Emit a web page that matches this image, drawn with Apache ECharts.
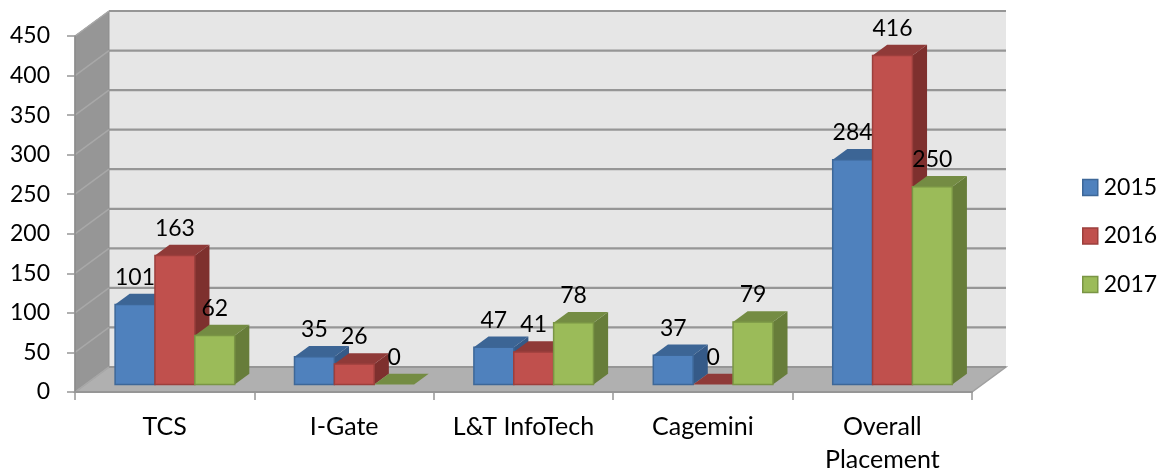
<!DOCTYPE html>
<html>
<head>
<meta charset="utf-8">
<style>html,body{margin:0;padding:0;background:#fff}#c{width:1163px;height:469px}</style>
<script src="https://cdn.jsdelivr.net/npm/echarts@6/dist/echarts.min.js"></script>
</head>
<body>
<div id="c"></div>
<script>
const categories = ['TCS', 'I-Gate', 'L&T InfoTech', 'Cagemini', 'Overall\nPlacement'];
const values2015 = [101, 35, 47, 37, 284];
const values2016 = [163, 26, 41, 0, 416];
const values2017 = [62, 0, 78, 79, 250];
const yTicks = [0, 50, 100, 150, 200, 250, 300, 350, 400, 450];

const FONT = 'Lato';
const WALL_DX = 34, WALL_DY = -25;     // depth of the 3D box
const BAR_START = 0.3, BAR_DEPTH = 0.43; // bar position along the depth, as fraction
const GAP = 1.5;                       // gap width, in bar widths

function poly(points, fill, stroke, lineWidth) {
  return { type: 'polygon', shape: { points }, style: { fill, stroke: stroke || null, lineWidth: lineWidth || 0 } };
}

function wallsItem(params) {
  const g = params.coordSys;
  const l = g.x, r = g.x + g.width, t = g.y, b = g.y + g.height;
  const dx = WALL_DX, dy = WALL_DY;
  return { type: 'group', children: [
    poly([[l + dx, t + dy], [r + dx, t + dy], [r + dx, b + dy], [l + dx, b + dy]], '#e6e6e6'),
    poly([[l, b], [l + dx, b + dy], [l + dx, t + dy], [l, t]], '#969696', '#8c8c8c', 1),
    poly([[l, b], [r, b], [r + dx, b + dy], [l + dx, b + dy]], '#b0b0b0', '#a0a0a0', 1.5)
  ] };
}

function gridItem(params, api) {
  const g = params.coordSys;
  const p = api.coord([0, api.value(0)]);
  const y = p[1], l = g.x, r = g.x + g.width;
  const line = (x1, y1, x2, y2, c, w) => ({ type: 'line', shape: { x1, y1, x2, y2 }, style: { stroke: c, lineWidth: w } });
  return { type: 'group', children: [
    line(l, y, l + WALL_DX, y + WALL_DY, '#a8a8a8', 1.5),
    line(l + WALL_DX, y + WALL_DY, r + WALL_DX, y + WALL_DY, '#969696', 2.2)
  ] };
}

function barRenderer(seriesIndex, seriesCount, face, top, side, edge) {
  return function (params, api) {
    const cat = api.value(0), val = api.value(1);
    const base = api.coord([cat, 0]);
    const head = api.coord([cat, val]);
    const band = api.size([1, 0])[0];
    const w = band / (seriesCount + GAP);
    const sx = WALL_DX * BAR_START, sy = WALL_DY * BAR_START;
    const x0 = base[0] + sx - (w * seriesCount) / 2 + w * seriesIndex;
    const x1 = x0 + w;
    const yb = base[1] + sy, yt = head[1] + sy;
    const ddx = WALL_DX * BAR_DEPTH, ddy = WALL_DY * BAR_DEPTH;
    const children = [
      poly([[x1, yt], [x1 + ddx, yt + ddy], [x1 + ddx, yb + ddy], [x1, yb]], side),
      poly([[x0, yt], [x0 + ddx, yt + ddy], [x1 + ddx, yt + ddy], [x1, yt]], top)
    ];
    if (val > 0) {
      children.push({ type: 'rect', shape: { x: x0, y: yt, width: w, height: yb - yt }, style: { fill: face, stroke: edge, lineWidth: 1.5 } });
    }
    children.push({
      type: 'text', z2: 100,
      style: { x: (x0 + x1) / 2, y: yt - 27, text: String(val), fill: '#000', font: '23px ' + FONT, align: 'center', verticalAlign: 'middle' }
    });
    return { type: 'group', children };
  };
}

const years = [
  { name: '2015', data: values2015, face: '#4f81bd', top: '#3c6595', side: '#355a88', edge: '#3d6798' },
  { name: '2016', data: values2016, face: '#c0504d', top: '#8f3a38', side: '#7e302e', edge: '#9c3f3c' },
  { name: '2017', data: values2017, face: '#9bbb59', top: '#748c43', side: '#677d3a', edge: '#7a9545' }
];

const chart = echarts.init(document.getElementById('c'), null, { renderer: 'canvas' });
chart.setOption({
  animation: false,
  backgroundColor: '#fff',
  grid: { left: 75, right: 191, top: 36, bottom: 77, outerBoundsMode: 'none', containLabel: false },
  xAxis: {
    type: 'category', data: categories, z: 10,
    axisLine: { lineStyle: { color: '#969696', width: 2 } },
    axisTick: { show: true, length: 8, lineStyle: { color: '#969696', width: 1.5 } },
    axisLabel: { color: '#000', fontFamily: FONT, fontSize: 25, lineHeight: 33, margin: 18, interval: 0 }
  },
  yAxis: {
    type: 'value', min: 0, max: 450, interval: 50, z: 10,
    splitLine: { show: false },
    axisLine: { show: true, lineStyle: { color: '#8c8c8c', width: 1.5 } },
    axisTick: { show: true, length: 8, lineStyle: { color: '#969696', width: 1.5 } },
    axisLabel: { color: '#000', fontFamily: FONT, fontSize: 23, margin: 25 }
  },
  legend: {
    orient: 'vertical', left: 1077, top: 171, itemWidth: 15, itemHeight: 16, itemGap: 25.5,
    icon: 'rect', selectedMode: false,
    textStyle: { color: '#000', fontFamily: FONT, fontSize: 23, padding: [0, 0, 0, 1] },
    data: years.map(y => ({ name: y.name, itemStyle: { color: y.face, borderColor: y.edge, borderWidth: 1.5 } }))
  },
  series: [
    { type: 'custom', name: 'walls', z: 1, silent: true, coordinateSystem: 'cartesian2d', data: [[0, 0]], renderItem: wallsItem, encode: { x: 0, y: 1 } },
    { type: 'custom', name: 'grid', z: 1, silent: true, coordinateSystem: 'cartesian2d', data: yTicks.map(v => [v]), renderItem: gridItem, encode: { y: 0 } }
  ].concat(years.map((y, i) => ({
    type: 'custom', name: y.name, z: 3, coordinateSystem: 'cartesian2d',
    itemStyle: { color: y.face },
    data: y.data.map((v, c) => [c, v]),
    encode: { x: 0, y: 1 },
    renderItem: barRenderer(i, years.length, y.face, y.top, y.side, y.edge)
  })))
});
</script>
</body>
</html>
